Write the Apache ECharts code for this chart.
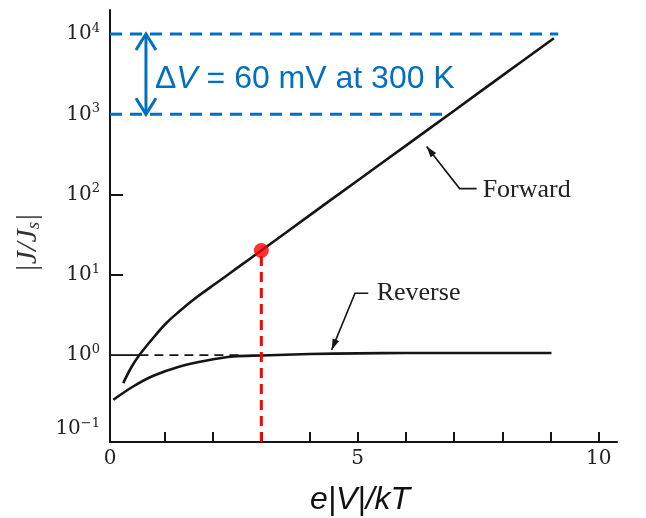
<!DOCTYPE html>
<html><head><meta charset="utf-8">
<script src="https://cdn.jsdelivr.net/npm/echarts@6/dist/echarts.min.js"></script>
<style>html,body{margin:0;padding:0;background:#fff}#c{width:646px;height:518px}</style>
</head><body><div id="c"></div>
<script>
// ---- data ----
const forwardX = [0.135, 0.3, 0.47, 0.75, 1.03, 1.3, 1.59, 2.14, 2.5, 3, 4, 5, 6, 7, 8, 9.07];
const forwardY = [0.448, 0.70, 1.0, 1.62, 2.51, 3.51, 4.9, 8.5, 12.2, 20.1, 55, 150, 408, 1110, 3040, 8870];
const reverseX = [-0.07, 0.34, 0.76, 1.31, 1.87, 2.42, 3, 4, 5, 6, 7, 8, 9.02];
const reverseY = [0.278, 0.406, 0.552, 0.721, 0.857, 0.96, 0.99, 1.03, 1.05, 1.06, 1.06, 1.06, 1.06];
const xTickValues = [1, 2, 3, 4, 5, 6, 7, 8, 9, 10];
const xLabelValues = [-0.14, 5, 10];          // "0" label sits under the y axis
const yTickValues = [10, 100];
const yLabelValues = [0.12, 1, 10, 100, 1000, 10000];
const unitySolidX = [-0.14, 0.47];
const unityDashX = [0.47, 2.6];
const unityY = 1;
const decadeHighY = 10000, decadeHighEndX = 9.16;
const decadeLowY = 1000, decadeLowEndX = 6.8;
const markerX = 3, markerY = 20.1;
const arrowX = 0.606;
const forwardNote = [6.43, 396];
const reverseNote = [4.46, 1.16];

const X_MIN = -0.14, X_MAX = 10.38;
const Y_MIN = Math.pow(10, -1.083), Y_MAX = Math.pow(10, 4.3);
const BLUE = '#0070C0', RED = '#FF0000', INK = '#151515';

const chart = echarts.init(document.getElementById('c'), null, {renderer: 'canvas'});
const pairs = (xs, ys) => xs.map((x, i) => [x, ys[i]]);

chart.setOption({
  animation: false,
  grid: {left: 110, right: 29, top: 10, bottom: 76},
  xAxis: {
    type: 'value', min: X_MIN, max: X_MAX,
    axisLine: {show: true, onZero: false, lineStyle: {color: INK, width: 2}},
    axisTick: {show: true, inside: true, length: 10, customValues: xTickValues, lineStyle: {color: INK, width: 2}},
    axisLabel: {customValues: xLabelValues, formatter: v => String(Math.abs(Math.round(v))),
      fontFamily: 'DejaVu Serif', fontSize: 20, color: '#222', margin: 7},
    splitLine: {show: false}
  },
  yAxis: {
    type: 'log', logBase: 10, min: Y_MIN, max: Y_MAX,
    axisLine: {show: true, onZero: false, lineStyle: {color: INK, width: 2}},
    axisTick: {show: true, inside: true, length: 13, customValues: yTickValues, lineStyle: {color: INK, width: 2}},
    axisLabel: {
      customValues: yLabelValues, margin: 10,
      formatter: v => { const e = Math.round(Math.log10(v)); return '{b|10}{s|' + (e < 0 ? '\u2212' + (-e) : e) + '}'; },
      rich: {
        b: {fontFamily: 'DejaVu Serif', fontSize: 20, lineHeight: 24, color: '#222'},
        s: {fontFamily: 'DejaVu Serif', fontSize: 13, lineHeight: 14, verticalAlign: 'top', color: '#222'}
      }
    },
    splitLine: {show: false}
  },
  series: [
    {type: 'line', name: 'Forward', data: pairs(forwardX, forwardY), smooth: 0.35, showSymbol: false,
      lineStyle: {color: INK, width: 2.6}},
    {type: 'line', name: 'Reverse', data: pairs(reverseX, reverseY), smooth: 0.35, showSymbol: false,
      lineStyle: {color: INK, width: 2.6}},
    {type: 'line', data: unitySolidX.map(x => [x, unityY]), showSymbol: false, lineStyle: {color: INK, width: 1.8}},
    {type: 'line', data: unityDashX.map(x => [x, unityY]), showSymbol: false, lineStyle: {color: INK, width: 1.8, type: [9, 6]}},
    {type: 'line', data: [[X_MIN, decadeHighY], [decadeHighEndX, decadeHighY]], showSymbol: false,
      lineStyle: {color: BLUE, width: 3, type: [12, 8]}},
    {type: 'line', data: [[X_MIN, decadeLowY], [decadeLowEndX, decadeLowY]], showSymbol: false,
      lineStyle: {color: BLUE, width: 3, type: [12, 8]}},
    {type: 'line', data: [[markerX, Y_MIN], [markerX, markerY]], showSymbol: false,
      lineStyle: {color: RED, width: 3, type: [10, 6]}},
    {type: 'scatter', data: [[markerX, markerY]], symbolSize: 15, itemStyle: {color: RED}, z: 5}
  ]
});

function px(x, y) { return chart.convertToPixel({gridIndex: 0}, [x, y]); }
function arrowHead(tip, from, len, half) {
  const dx = tip[0] - from[0], dy = tip[1] - from[1];
  const L = Math.hypot(dx, dy), ux = dx / L, uy = dy / L;
  const bx = tip[0] - ux * len, by = tip[1] - uy * len;
  return [tip, [bx - uy * half, by + ux * half], [bx + uy * half, by - ux * half]];
}

const gs = [];
// blue double arrow
const aT = px(arrowX, decadeHighY), aB = px(arrowX, decadeLowY);
gs.push({type: 'polyline', shape: {points: [aT, aB]}, style: {stroke: BLUE, lineWidth: 3, fill: null}});
gs.push({type: 'polyline', shape: {points: [[aT[0] - 10, aT[1] + 16], aT, [aT[0] + 10, aT[1] + 16]]}, style: {stroke: BLUE, lineWidth: 3, fill: null}});
gs.push({type: 'polyline', shape: {points: [[aB[0] - 10, aB[1] - 16], aB, [aB[0] + 10, aB[1] - 16]]}, style: {stroke: BLUE, lineWidth: 3, fill: null}});
gs.push({type: 'text', x: aT[0] + 9, y: (aT[1] + aB[1]) / 2 + 5, style: {
  text: '{n|\u0394}{i|V}{n| = 60 mV at 300 K}', verticalAlign: 'middle', align: 'left',
  rich: {n: {fontFamily: 'Liberation Sans', fontSize: 32, fill: BLUE},
         i: {fontFamily: 'Liberation Sans', fontStyle: 'italic', fontSize: 32, fill: BLUE}}}});

// Forward leader
const fT = px(forwardNote[0], forwardNote[1]);
const fE = [fT[0] + 33, fT[1] + 42], fEnd = [fT[0] + 50, fT[1] + 42];
gs.push({type: 'polyline', shape: {points: [fT, fE, fEnd]}, style: {stroke: INK, lineWidth: 1.6, fill: null}});
gs.push({type: 'polygon', shape: {points: arrowHead(fT, fE, 11, 3.5)}, style: {fill: INK}});
gs.push({type: 'text', x: fT[0] + 56, y: fT[1] + 44, style: {text: 'Forward', fontFamily: 'Liberation Serif', fontSize: 26,
  fill: '#222', verticalAlign: 'middle', align: 'left'}});

// Reverse leader
const rT = px(reverseNote[0], reverseNote[1]);
const rE = [rT[0] + 23.3, rT[1] - 56.7], rEnd = [rT[0] + 36.6, rT[1] - 56.7];
gs.push({type: 'polyline', shape: {points: [rT, rE, rEnd]}, style: {stroke: INK, lineWidth: 1.6, fill: null}});
gs.push({type: 'polygon', shape: {points: arrowHead(rT, rE, 11, 3.5)}, style: {fill: INK}});
gs.push({type: 'text', x: rT[0] + 45, y: rT[1] - 57, style: {text: 'Reverse', fontFamily: 'Liberation Serif', fontSize: 26,
  fill: '#222', verticalAlign: 'middle', align: 'left'}});

// axis titles
gs.push({type: 'text', x: 360, y: 500, style: {text: 'e|V|/kT', fontFamily: 'Liberation Sans', fontStyle: 'italic',
  fontSize: 32, fill: '#111', align: 'center', verticalAlign: 'middle'}});
gs.push({type: 'text', x: 28, y: 243, rotation: Math.PI / 2, style: {
  text: '{a||J/J}{s|s}{a||}', align: 'center', verticalAlign: 'middle',
  rich: {a: {fontFamily: 'Liberation Serif', fontStyle: 'italic', fontSize: 30, fill: '#333'},
         s: {fontFamily: 'Liberation Serif', fontStyle: 'italic', fontSize: 19, fill: '#333', verticalAlign: 'bottom', lineHeight: 22}}}});

chart.setOption({graphic: gs});
</script>
</body></html>
